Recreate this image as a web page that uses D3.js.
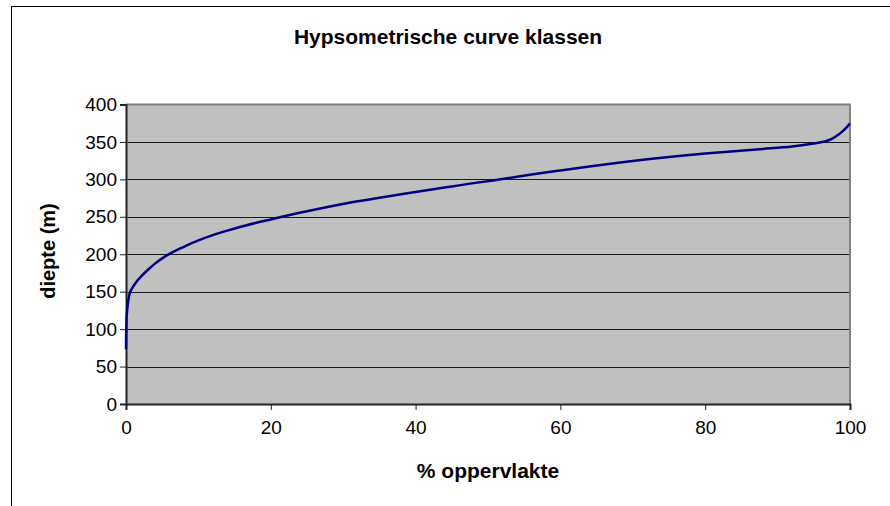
<!DOCTYPE html>
<html>
<head>
<meta charset="utf-8">
<script src="https://cdn.jsdelivr.net/npm/d3@7"></script>
<style>
  html, body { margin: 0; padding: 0; background: #fff; }
  svg { display: block; font-family: "Liberation Sans", Arial, sans-serif; }
</style>
</head>
<body>
<svg id="chart" width="890" height="506"></svg>
<script>
const titleText = "Hypsometrische curve klassen";
const xTitle = "% oppervlakte";
const yTitle = "diepte (m)";

const percentArea = [0, 0.1, 0.3, 0.55, 1, 1.5, 2, 3, 4, 5, 6, 7, 8, 9, 10, 12, 14, 16, 18, 20, 22, 25, 28, 31, 35, 38, 42, 45, 48, 52, 56, 60, 64, 68, 72, 76, 80, 84, 88, 92, 95, 96.5, 97.5, 98.3, 99, 99.5, 100];
const depth = [73, 118, 137, 149, 157, 164, 169.5, 179, 187.5, 194.5, 200.5, 205.5, 210, 214.5, 218.5, 225.5, 231.5, 237, 242, 246.5, 251, 257.5, 263.5, 269, 275.5, 280, 286, 290.5, 295, 300.5, 306.5, 312, 317.3, 322.3, 327, 331, 334.5, 337.7, 340.7, 344, 347.8, 350.5, 354, 359, 364.5, 369, 375];

const xTicks = [0, 20, 40, 60, 80, 100];
const yTicks = [0, 50, 100, 150, 200, 250, 300, 350, 400];

const data = percentArea.map((p, i) => ({ p, d: depth[i] }));

const svg = d3.select("#chart");
const plot = { left: 126, right: 850, top: 104.5, bottom: 404 };

const x = d3.scaleLinear().domain([0, 100]).range([plot.left, plot.right]);
const y = d3.scaleLinear().domain([0, 400]).range([plot.bottom, plot.top]);

// outer chart border
svg.append("rect")
  .attr("x", 11.5).attr("y", 6.5)
  .attr("width", 900).attr("height", 600)
  .attr("fill", "#fff").attr("stroke", "#000").attr("stroke-width", 1);

// plot background
svg.append("rect")
  .attr("x", plot.left).attr("y", plot.top)
  .attr("width", plot.right - plot.left).attr("height", plot.bottom - plot.top)
  .attr("fill", "#c0c0c0");

// gridlines
svg.append("g")
  .selectAll("line")
  .data(yTicks.filter(t => t > 0 && t < 400))
  .join("line")
  .attr("x1", plot.left).attr("x2", plot.right)
  .attr("y1", d => Math.round(y(d)) + 0.5).attr("y2", d => Math.round(y(d)) + 0.5)
  .attr("stroke", "#1a1a1a").attr("stroke-width", 1);

// top and right border (gray)
svg.append("path")
  .attr("d", `M${plot.left},${plot.top} H${plot.right} V${plot.bottom}`)
  .attr("fill", "none").attr("stroke", "#808080").attr("stroke-width", 2);

// y axis
const yAxis = d3.axisLeft(y).tickValues(yTicks).tickSize(6).tickPadding(3).tickFormat(d3.format("d"));
const gy = svg.append("g").attr("transform", `translate(${plot.left},0)`).call(yAxis);
gy.select(".domain").attr("stroke", "#222").attr("stroke-width", 2);
gy.selectAll(".tick line").attr("stroke", "#222").attr("stroke-width", 1);
gy.selectAll(".tick text")
  .attr("font-size", 19).attr("fill", "#000")
  .attr("font-family", "Liberation Sans, Arial, sans-serif");

// x axis
const xAxis = d3.axisBottom(x).tickValues(xTicks).tickSize(6).tickPadding(11).tickFormat(d3.format("d"));
const gx = svg.append("g").attr("transform", `translate(0,${plot.bottom})`).call(xAxis);
gx.select(".domain").attr("stroke", "#222").attr("stroke-width", 2);
gx.selectAll(".tick line").attr("stroke", "#222").attr("stroke-width", 1);
gx.selectAll(".tick text")
  .attr("font-size", 19).attr("fill", "#000")
  .attr("font-family", "Liberation Sans, Arial, sans-serif");

// curve
const line = d3.line()
  .x(d => x(d.p))
  .y(d => y(d.d))
  .curve(d3.curveCatmullRom.alpha(0.5));

svg.append("path")
  .datum(data)
  .attr("d", line)
  .attr("fill", "none")
  .attr("stroke", "#000080")
  .attr("stroke-width", 2.5)
  .attr("stroke-linejoin", "round");

// title
svg.append("text")
  .attr("x", 448).attr("y", 44)
  .attr("text-anchor", "middle")
  .attr("font-size", 21).attr("font-weight", "bold")
  .text(titleText);

// x title
svg.append("text")
  .attr("x", 488).attr("y", 478)
  .attr("text-anchor", "middle")
  .attr("font-size", 21).attr("font-weight", "bold")
  .text(xTitle);

// y title
svg.append("text")
  .attr("transform", "translate(55,251) rotate(-90)")
  .attr("text-anchor", "middle")
  .attr("font-size", 20).attr("font-weight", "bold")
  .text(yTitle);
</script>
</body>
</html>
